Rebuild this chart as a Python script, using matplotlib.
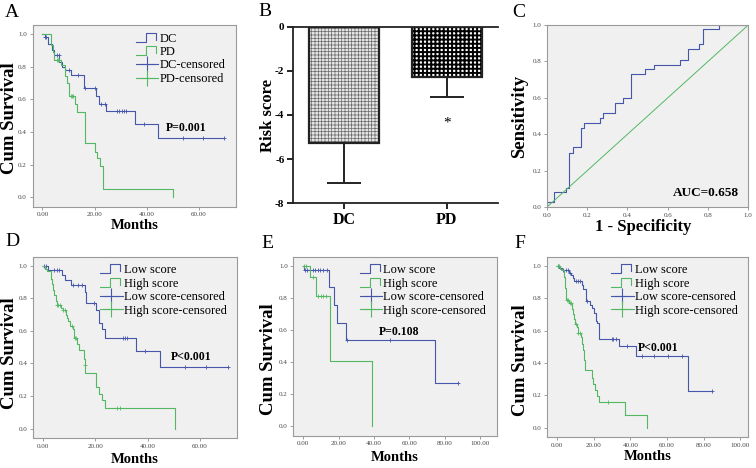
import numpy as np
import matplotlib
matplotlib.use('Agg')
import matplotlib.pyplot as plt
from matplotlib.lines import Line2D
from matplotlib.legend_handler import HandlerBase

plt.rcParams['font.family'] = ['Liberation Serif', 'DejaVu Serif']

# ---- data ----
# A: DC vs PD
a_dc_t = [0, 0.8, 2, 3.5, 4.5, 6.5, 7.5, 8.5, 11, 16, 20.5, 21.5, 24.5, 35.6, 44.2]
a_dc_s = [1.0, 0.98, 0.94, 0.90, 0.87, 0.83, 0.80, 0.78, 0.75, 0.67, 0.62, 0.57, 0.53, 0.45, 0.36]
a_dc_c = [0.8, 1.3, 5.5, 6.2, 10, 13.5, 16.5, 20, 22.5, 24, 28.5, 29.5, 30.5, 31.2, 32, 38.8, 53.8, 61.7, 69.5]
a_pd_t = [0, 3.4, 3.9, 4.6, 7.2, 8.5, 9.4, 10, 12.6, 13.2, 16.2, 20.3, 20.8, 22.2, 23.1, 50]
a_pd_s = [1.0, 0.93, 0.89, 0.84, 0.81, 0.74, 0.70, 0.62, 0.57, 0.52, 0.33, 0.28, 0.24, 0.19, 0.05, 0.0]
a_pd_c = [5.5, 6.0, 6.5, 10.8, 11.3, 11.8]

# B: risk score
b_groups = ['DC', 'PD']
b_mean = [-5.28, -2.29]
b_err = [1.79, 0.88]

# C: ROC
roc_fpr = [0, 0, 0.036, 0.096, 0.112, 0.132, 0.17, 0.187, 0.264, 0.28, 0.34, 0.377, 0.417,
           0.49, 0.53, 0.66, 0.70, 0.755, 0.776, 0.853, 1.0]
roc_tpr = [0, 0.03, 0.084, 0.105, 0.30, 0.33, 0.435, 0.46, 0.49, 0.515, 0.57, 0.598, 0.73,
           0.757, 0.782, 0.81, 0.866, 0.895, 0.976, 1.0, 1.0]

# D: low vs high score
d_lo_t = [0, 1.9, 7.4, 8.6, 10.8, 16.2, 16.6, 20.3, 21.3, 22.8, 23.6, 35.5, 44.8]
d_lo_s = [1.0, 0.973, 0.945, 0.91, 0.88, 0.84, 0.77, 0.73, 0.65, 0.61, 0.555, 0.475, 0.38]
d_lo_c = [0.6, 1.1, 4.4, 5.6, 6.3, 11.7, 13.6, 14.9, 19.6, 30.6, 31.4, 32.3, 39, 54.4, 62.1, 70.5]
d_hi_t = [0, 0.9, 1.5, 3.1, 3.6, 4.0, 4.4, 4.9, 5.3, 6.8, 7.6, 8.8, 9.3, 9.6, 10.3, 11.6, 11.8,
          12.9, 13.7, 15.6, 16.0, 16.2, 20.3, 21.3, 22.6, 23.6, 50.6]
d_hi_s = [1.0, 0.98, 0.97, 0.92, 0.89, 0.85, 0.82, 0.78, 0.76, 0.74, 0.725, 0.70, 0.68, 0.66,
          0.63, 0.61, 0.555, 0.52, 0.48, 0.43, 0.39, 0.34, 0.255, 0.214, 0.173, 0.128, 0.0]
d_hi_c = [5.4, 6.0, 6.5, 7.9, 8.4, 11.1, 12.2, 12.6, 16.1, 28.4, 29.3]

# E
e_lo_t = [0, 0.6, 14.5, 17.5, 19.2, 24.2, 74.5]
e_lo_s = [1.0, 0.973, 0.866, 0.755, 0.645, 0.54, 0.27]
e_lo_c = [0.9, 2.3, 3.8, 5.3, 6.6, 8.1, 9.4, 10.9, 13.2, 24.5, 49, 87.7]
e_hi_t = [0, 3.8, 7.0, 15.1, 39]
e_hi_s = [1.0, 0.928, 0.813, 0.405, 0.0]
e_hi_c = [0.6, 1.3, 5.7, 8.5, 10, 11.3, 12.8]

# F
f_lo_t = [0, 1.1, 2.4, 6.4, 7.3, 8.4, 9.1, 13.3, 14.2, 15.7, 17.9, 18.8, 20.1, 21.0, 21.9, 22.8,
          33.9, 43.1, 71.7]
f_lo_s = [1.0, 0.985, 0.973, 0.955, 0.94, 0.925, 0.905, 0.88, 0.855, 0.78, 0.755, 0.74, 0.71,
          0.66, 0.645, 0.55, 0.502, 0.445, 0.225]
f_lo_c = [0.5, 3.3, 4.6, 5.7, 6.9, 10.2, 11.5, 12.4, 16.4, 29.7, 30.7, 31.9, 38, 46.2, 52.9,
          60.8, 68.1, 84.5]
f_hi_t = [0, 1.5, 2.4, 3.6, 4.2, 4.7, 6.4, 7.8, 8.4, 9.1, 9.7, 10.6, 11.1, 13.0, 13.7, 14.2,
          14.8, 15.1, 18.8, 19.7, 20.6, 21.5, 22.8, 37, 49.3]
f_hi_s = [1.0, 0.98, 0.97, 0.93, 0.86, 0.79, 0.77, 0.73, 0.70, 0.67, 0.64, 0.62, 0.585, 0.56,
          0.52, 0.48, 0.42, 0.359, 0.31, 0.27, 0.235, 0.195, 0.16, 0.078, 0.0]
f_hi_c = [0.5, 1.1, 5.1, 6.0, 6.9, 7.5, 10.2, 11.5, 12.4, 27.9]

BLUE = '#4656a8'
GREEN = '#52b862'
BG = '#f0f0f0'

W, H = 756, 468
fig = plt.figure(figsize=(W / 100, H / 100), dpi=100)


def px_axes(x0, y0, x1, y1):
    return fig.add_axes([x0 / W, 1 - y1 / H, (x1 - x0) / W, (y1 - y0) / H])


class StepHandler(HandlerBase):
    def create_artists(self, legend, orig_handle, xdescent, ydescent, width, height, fontsize, trans):
        x0, y0 = -xdescent, -ydescent
        xs = [x0, x0 + 0.45 * width, x0 + 0.45 * width, x0 + 0.9 * width, x0 + 0.9 * width]
        ys = [y0, y0, y0 + height, y0 + height, y0 + 0.2 * height]
        ln = Line2D(xs, ys, color=orig_handle.get_color(), lw=orig_handle.get_linewidth())
        ln.set_transform(trans)
        return [ln]


def spss_box(ax):
    ax.set_facecolor(BG)
    for sp in ax.spines.values():
        sp.set_color('#9a9a9a')
        sp.set_linewidth(0.8)
    ax.tick_params(direction='out', length=2, width=0.5, color='#777777',
                   labelsize=5, labelcolor='#444444', pad=2)


def km(ax, curves, names, xlim, xticks, ptext, ppos, ylab_xy, xlab_y):
    spss_box(ax)
    for t, s, c, col in curves:
        t_end = max(t[-1], max(c))
        ax.step(np.r_[t, t_end], np.r_[s, s[-1]], where='post', color=col, lw=0.8)
        idx = np.searchsorted(t, c, side='right') - 1
        ax.plot(c, np.asarray(s)[idx], '+', color=col, ms=3.5, mew=0.6)
    ax.set_xlim(*xlim)
    ax.set_ylim(-0.058, 1.055)
    ax.set_xticks(xticks)
    ax.set_xticklabels(['%.2f' % v for v in xticks])
    ax.set_yticks(np.arange(0, 1.01, 0.2))
    ax.set_yticklabels(['%.1f' % v for v in np.arange(0, 1.01, 0.2)])
    ax.set_xlabel('Months', fontsize=10.5, fontweight='bold')
    ax.xaxis.set_label_coords(0.5, xlab_y)
    ax.set_ylabel('Cum Survival', fontsize=13.5, fontweight='bold')
    ax.yaxis.set_label_coords(*ylab_xy)
    ax.text(ppos[0], ppos[1], ptext, fontsize=8.5, fontweight='bold', va='center')
    sb = Line2D([], [], color=BLUE, lw=0.8)
    sg = Line2D([], [], color=GREEN, lw=0.8)
    cb = Line2D([], [], color=BLUE, lw=0.8, marker='+', ms=11, mew=0.8)
    cg = Line2D([], [], color=GREEN, lw=0.8, marker='+', ms=11, mew=0.8)
    ax.legend([sb, sg, cb, cg], [names[0], names[1], names[0] + '-censored', names[1] + '-censored'],
              handler_map={sb: StepHandler(), sg: StepHandler()}, loc='upper right',
              bbox_to_anchor=(0.985, 1.0), frameon=False, fontsize=9, handlelength=1.8,
              handletextpad=0.1, labelspacing=0.12, borderaxespad=0.2, numpoints=1)


# A
axA = px_axes(32.5, 25, 236, 206.7)
km(axA, [(a_dc_t, a_dc_s, a_dc_c, BLUE), (a_pd_t, a_pd_s, a_pd_c, GREEN)], ['DC', 'PD'],
   (-3.8, 74.2), [0, 20, 40, 60], 'P=0.001', (47.5, 0.425), (-0.07, 0.486), -0.066)

# B
axB = px_axes(292.7, 26.7, 498.3, 203.3)
xb = np.arange(len(b_groups))
plt.rcParams['hatch.linewidth'] = 0.5
axB.bar(xb[0], b_mean[0], width=0.68, color='#e4e4e4', edgecolor='#6a6a6a', hatch='+++++', lw=0)
plt.rcParams['hatch.linewidth'] = 1.4
axB.bar(xb[1], b_mean[1], width=0.68, color='white', edgecolor='black', hatch='++++', lw=0)
axB.bar(xb, b_mean, width=0.68, fill=False, edgecolor='#222222', lw=1.6)
axB.errorbar(xb, b_mean, yerr=[b_err, [0, 0]], fmt='none', ecolor='#222222', elinewidth=1.4,
             capsize=12.5, capthick=1.4)
axB.text(xb[1], b_mean[1] - b_err[1] - 1.2, '*', ha='center', va='center', fontsize=11)
axB.set_xlim(-0.5, 1.5)
axB.set_ylim(-8, 0)
axB.set_yticks([0, -2, -4, -6, -8])
axB.set_yticklabels(['0', '-2', '-4', '-6', '-8'], fontweight='bold', fontsize=8)
axB.set_xticks(xb)
axB.set_xticklabels(b_groups, fontweight='bold', fontsize=11.5)
axB.set_ylabel('Risk score', fontsize=12, fontweight='bold')
axB.yaxis.set_label_coords(-0.08, 0.5)
axB.spines['right'].set_visible(False)
for k in ['left', 'top', 'bottom']:
    axB.spines[k].set_linewidth(1.3)
    axB.spines[k].set_color('#222222')
axB.tick_params(direction='out', length=4, width=1.2, pad=2)

# C
axC = px_axes(546.7, 25, 748.3, 207.3)
spss_box(axC)
axC.step(roc_fpr, roc_tpr, where='post', color=BLUE, lw=0.8)
axC.plot([0, 1], [0, 1], color=GREEN, lw=0.7)
axC.set_xlim(0, 1)
axC.set_ylim(0, 1)
ticks = np.arange(0, 1.01, 0.2)
axC.set_xticks(ticks)
axC.set_xticklabels(['%.1f' % v for v in ticks])
axC.set_yticks(ticks)
axC.set_yticklabels(['%.1f' % v for v in ticks])
axC.set_xlabel('1 - Specificity', fontsize=12, fontweight='bold')
axC.xaxis.set_label_coords(0.48, -0.064)
axC.set_ylabel('Sensitivity', fontsize=13.5, fontweight='bold')
axC.yaxis.set_label_coords(-0.09, 0.5)
axC.text(0.955, 0.08, 'AUC=0.658', ha='right', va='center', fontsize=9.5, fontweight='bold')

# D, E, F
axD = px_axes(32.7, 256.7, 237.3, 438)
km(axD, [(d_lo_t, d_lo_s, d_lo_c, BLUE), (d_hi_t, d_hi_s, d_hi_c, GREEN)], ['Low score', 'High score'],
   (-3.8, 74.2), [0, 20, 40, 60], 'P<0.001', (48.9, 0.44), (-0.072, 0.47), -0.085)
axE = px_axes(293.3, 256.7, 496.7, 435.7)
km(axE, [(e_lo_t, e_lo_s, e_lo_c, BLUE), (e_hi_t, e_hi_s, e_hi_c, GREEN)], ['Low score', 'High score'],
   (-5.7, 109.5), [0, 20, 40, 60, 80, 100], 'P=0.108', (43, 0.585), (-0.08, 0.43), -0.085)
axF = px_axes(546.7, 256.7, 748.3, 437.3)
km(axF, [(f_lo_t, f_lo_s, f_lo_c, BLUE), (f_hi_t, f_hi_s, f_hi_c, GREEN)], ['Low score', 'High score'],
   (-5.8, 104.5), [0, 20, 40, 60, 80, 100], 'P<0.001', (44, 0.49), (-0.088, 0.43), -0.07)

# panel letters
for lab, x, y in [('A', 5, 4), ('B', 258, 3), ('C', 512, 4), ('D', 5, 233), ('E', 261, 235), ('F', 514, 235)]:
    fig.text(x / W, 1 - y / H, lab, fontsize=14, va='top', ha='left')

fig.savefig('out.png', dpi=100)
